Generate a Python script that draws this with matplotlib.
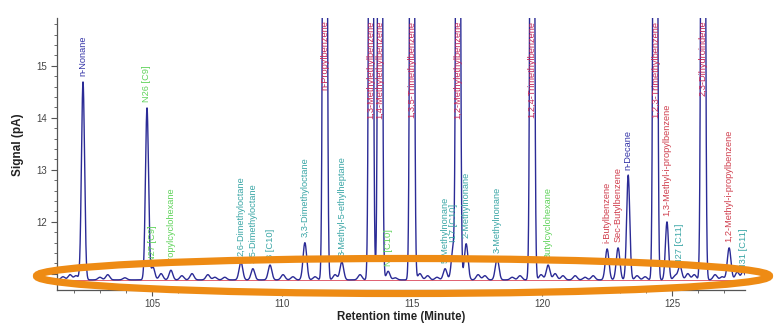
import numpy as np
import matplotlib.pyplot as plt
from matplotlib.patches import Ellipse
from matplotlib.ticker import MultipleLocator

plt.rcParams['font.family'] = ['Liberation Sans', 'DejaVu Sans']

# baseline level of the detector signal (pA)
baseline = 10.885

# large (off-scale) aromatic peaks: retention time, label
big_times = [111.65, 113.42, 113.77, 115.0, 116.77, 119.62, 124.35, 126.19]
big_labels = ['n-Propylbenzene', '1,3-Methylethylbenzene', '1,4-Methylethylbenzene',
              '1,3,5-Trimethylbenzene', '1,2-Methylethylbenzene', '1,2,4-Trimethylbenzene',
              '1,2,3-Trimethylbenzene', '2,3-Dihydroindene']
big_height = 30.0

# labelled peaks: retention time, apex signal, label, group
peak_times = [102.35, 104.81, 105.04, 105.73, 108.42, 108.88, 109.54, 110.88, 112.30,
              114.08, 116.27, 116.58, 117.08, 118.27, 120.23, 122.50, 122.92, 123.31,
              124.80, 125.30, 127.19, 127.73]
peak_tops = [14.69, 14.19, 11.13, 11.07, 11.23, 11.10, 11.17, 11.60, 11.23,
             11.05, 11.10, 11.50, 11.58, 11.30, 11.17, 11.48, 11.50, 12.90,
             12.00, 11.15, 11.50, 11.05]
peak_labels = ['n-Nonane', 'N26 [C9]', 'N27 [C9]', 'Propylcyclohexane', '2,6-Dimethyloctane',
               '3,5-Dimethyloctane', '3 [C10]', '3,3-Dimethyloctane', '3-Methyl-5-ethylheptane',
               'N7 [C10]', '5-Methylnonane', 'I17 [C10]', '2-Methylnonane', '3-Methylnonane',
               'Butylcyclohexane', 'i-Butylbenzene', 'Sec-Butylbenzene', 'n-Decane',
               '1,3-Methyl-i-propylbenzene', 'I27 [C11]', '1,2-Methyl-i-propylbenzene', 'I31 [C11]']
peak_groups = ['P', 'N', 'N', 'N', 'I', 'I', 'I', 'I', 'I',
               'N', 'I', 'I', 'I', 'I', 'N', 'A', 'A', 'P',
               'A', 'I', 'A', 'I']

# unlabelled baseline bumps: retention time, height above baseline
bump_times = [101.58, 101.85, 102.08, 103.0, 103.3, 103.96, 105.35, 106.15, 106.54,
              107.15, 107.42, 107.8, 110.04, 110.42, 111.27, 112.04, 113.0, 114.35,
              115.3, 115.6, 115.96, 117.54, 117.8, 118.85, 119.15, 119.96, 120.5,
              120.8, 121.27, 121.65, 121.96, 123.65, 123.96, 125.12, 125.6, 125.85,
              126.65, 126.92, 127.5]
bump_heights = [0.06, 0.10, 0.08, 0.05, 0.10, 0.04, 0.12, 0.08, 0.12,
                0.10, 0.05, 0.05, 0.10, 0.06, 0.06, 0.10, 0.10, 0.04,
                0.12, 0.08, 0.05, 0.10, 0.08, 0.05, 0.08, 0.10, 0.12,
                0.08, 0.08, 0.05, 0.08, 0.08, 0.06, 0.08, 0.12, 0.10,
                0.10, 0.06, 0.15]

group_colors = {'P': '#3535a8', 'N': '#5fd35a', 'I': '#3aa6a6', 'A': '#d0404f'}
trace_color = '#2b2b96'

t = np.linspace(101.35, 127.8, 30000)
y = np.full_like(t, baseline)


def add_peak(center, height, sigma):
    return height * np.exp(-0.5 * ((t - center) / sigma) ** 2)


for c in big_times:
    y += add_peak(c, big_height, 0.055)
for c, top in zip(peak_times, peak_tops):
    sig = 0.06 if top - baseline > 1.0 else 0.07
    y += add_peak(c, top - baseline, sig)
for c, h in zip(bump_times, bump_heights):
    y += add_peak(c, h, 0.075)

fig = plt.figure(figsize=(7.74, 3.25), dpi=100)
ax = fig.add_axes([57 / 774, 1 - 290 / 325, (745 - 57) / 774, (290 - 18) / 325])

ax.plot([t[0], t[-1]], [baseline, baseline], color='#e06070', lw=0.7, zorder=1)
ax.plot(t, y, color=trace_color, lw=1.0, zorder=2)

ax.set_xlim(101.35, 127.8)
ax.set_ylim(10.69, 15.92)

for c, lab in zip(big_times, big_labels):
    ax.text(c, 15.87, lab, rotation=90, ha='center', va='top', fontsize=6.7,
            color='#c8285a', zorder=3)

for c, top, lab, g in zip(peak_times, peak_tops, peak_labels, peak_groups):
    ax.annotate(lab, (c, top), xytext=(0, 4), textcoords='offset points',
                rotation=90, ha='center', va='bottom', fontsize=6.7,
                color=group_colors[g], zorder=3)

for s in ['top', 'right']:
    ax.spines[s].set_visible(False)
for s in ['left', 'bottom']:
    ax.spines[s].set_color('#555555')
    ax.spines[s].set_linewidth(0.9)

ax.xaxis.set_major_locator(MultipleLocator(5))
ax.xaxis.set_minor_locator(MultipleLocator(1))
ax.yaxis.set_major_locator(MultipleLocator(1))
ax.yaxis.set_minor_locator(MultipleLocator(0.2))
ax.tick_params(which='both', colors='#555555', labelsize=7, labelcolor='#444444')
ax.tick_params(which='major', length=4)
ax.tick_params(which='minor', length=2.5)
ax.tick_params(axis='x', pad=2.5)

fig.text(18 / 774, 1 - 145 / 325, 'Signal (pA)', rotation=90, ha='center', va='center',
         fontsize=8.5, fontweight='bold', color='#222222')
fig.text(401 / 774, 1 - 317 / 325, 'Retention time (Minute)', ha='center', va='center',
         fontsize=8.3, fontweight='bold', color='#222222')

# orange highlight ring round the baseline
ring = Ellipse((403 / 774, 1 - 276 / 325), 733 / 774, 35 / 325, transform=fig.transFigure,
               fill=False, edgecolor='#ee8b14', linewidth=5.2, zorder=10)
fig.add_artist(ring)

fig.savefig('out.png', dpi=100)
